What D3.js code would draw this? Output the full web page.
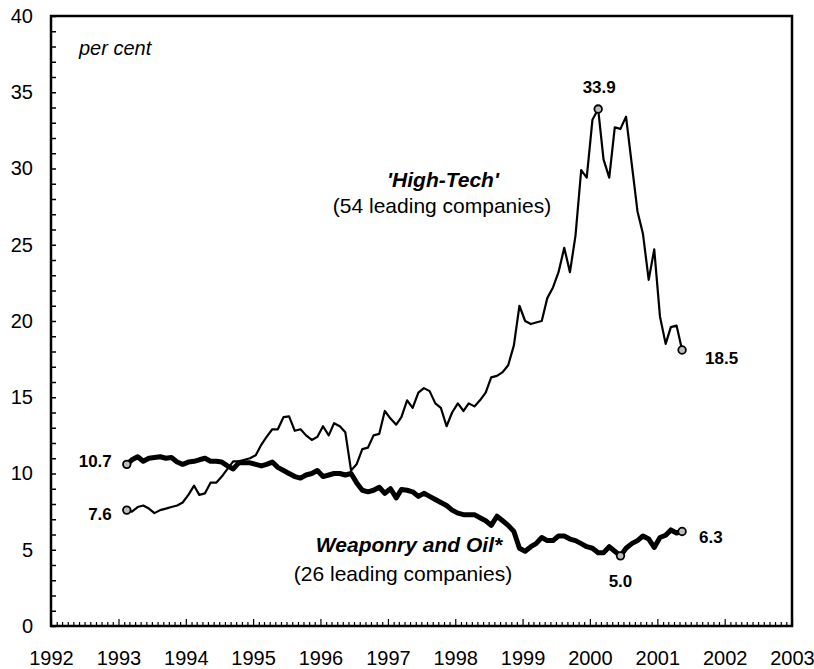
<!DOCTYPE html>
<html>
<head>
<meta charset="utf-8">
<script src="https://cdn.jsdelivr.net/npm/d3@7"></script>
<style>
body { margin: 0; background: #fff; }
svg text { font-family: "Liberation Sans", Arial, Helvetica, sans-serif; fill: #000; }
</style>
</head>
<body>
<svg id="chart" width="814" height="669"></svg>
<script>

// monthly series, first value is Feb 1993
var FIRST_MONTH = '1993-02';

var highTech = [
    7.6, 7.5, 7.8, 7.9, 7.7, 7.4, 7.6, 7.7, 7.8, 7.9,
    8.1, 8.6, 9.2, 8.6, 8.7, 9.4, 9.4, 9.8, 10.3, 10.8,
    10.8, 10.9, 11.0, 11.2, 11.9, 12.4, 12.9, 12.9, 13.7, 13.75,
    12.8, 12.9, 12.5, 12.2, 12.4, 13.1, 12.5, 13.3, 13.1, 12.7,
    10.2, 10.6, 11.6, 11.7, 12.5, 12.6, 14.1, 13.6, 13.2, 13.7,
    14.8, 14.3, 15.3, 15.6, 15.4, 14.6, 14.3, 13.1, 14.0, 14.6,
    14.1, 14.6, 14.4, 14.8, 15.3, 16.3, 16.4, 16.65, 17.1, 18.4,
    21.0, 20.0, 19.8, 19.9, 20.0, 21.5, 22.2, 23.2, 24.8, 23.2,
    25.6, 29.9, 29.4, 33.2, 33.9, 30.6, 29.4, 32.7, 32.6, 33.4,
    30.3, 27.2, 25.7, 22.7, 24.7, 20.3, 18.5, 19.6, 19.7, 18.1
];

var weaponry = [
    10.6, 10.9, 11.1, 10.8, 11.0, 11.05, 11.1, 11.0, 11.05, 10.75,
    10.6, 10.75, 10.8, 10.9, 11.0, 10.8, 10.8, 10.75, 10.5, 10.3,
    10.7, 10.7, 10.7, 10.6, 10.5, 10.6, 10.75, 10.4, 10.2, 10.0,
    9.8, 9.7, 9.9, 10.0, 10.2, 9.8, 9.9, 10.0, 10.0, 9.9,
    10.0, 9.4, 8.9, 8.8, 8.9, 9.1, 8.7, 9.0, 8.4, 8.95,
    8.9, 8.8, 8.5, 8.7, 8.5, 8.3, 8.1, 7.9, 7.6, 7.4,
    7.3, 7.3, 7.3, 7.1, 6.9, 6.6, 7.2, 6.9, 6.6, 6.2,
    5.1, 4.9, 5.2, 5.4, 5.8, 5.6, 5.6, 5.9, 5.9, 5.7,
    5.6, 5.4, 5.2, 5.1, 4.8, 4.8, 5.2, 4.9, 4.6, 5.1,
    5.4, 5.6, 5.9, 5.7, 5.15, 5.8, 5.95, 6.3, 6.1, 6.2
];

var yLabels = [0, 5, 10, 15, 20, 25, 30, 35, 40];
var yearLabels = [1992, 1993, 1994, 1995, 1996, 1997, 1998, 1999, 2000, 2001, 2002, 2003];

// marked points: index into the series and the printed value
var highTechMarks = [
    { i: 0, text: '7.6', place: 'left' },
    { i: 84, text: '33.9', place: 'top' },
    { i: 99, text: '18.5', place: 'right' }
];
var weaponryMarks = [
    { i: 0, text: '10.7', place: 'left' },
    { i: 88, text: '5.0', place: 'below' },
    { i: 99, text: '6.3', place: 'right' }
];

var highTechTitle = "'High-Tech'";
var highTechSub = '(54 leading companies)';
var weaponryTitle = 'Weaponry and Oil*';
var weaponrySub = '(26 leading companies)';
var unitLabel = 'per cent';

var svg = d3.select('#chart');

var plotLeft = 51, plotRight = 792, plotTop = 16, plotBottom = 626;

var parseMonth = d3.timeParse('%Y-%m');
var firstDate = d3.timeDay.offset(parseMonth(FIRST_MONTH), 14);

function monthDate(i) {
    return d3.timeMonth.offset(firstDate, i);
}

var xScale = d3.scaleTime()
    .domain([new Date(yearLabels[0], 0, 1), new Date(yearLabels[yearLabels.length - 1], 0, 1)])
    .range([plotLeft, plotRight]);

var yScale = d3.scaleLinear()
    .domain([yLabels[0], yLabels[yLabels.length - 1]])
    .range([plotBottom, plotTop]);

// y axis: a tick for every unit, labels every 5
var yAxis = d3.axisLeft(yScale)
    .tickValues(d3.range(0, 41, 1))
    .tickSizeInner(-5)
    .tickSizeOuter(0)
    .tickPadding(18)
    .tickFormat(function(d) { return yLabels.indexOf(d) > -1 ? d : ''; });

var gy = svg.append('g')
    .attr('transform', 'translate(' + plotLeft + ',0)')
    .call(yAxis);
gy.select('.domain').remove();
gy.selectAll('line').attr('stroke', '#000').attr('stroke-width', 1.5);
gy.selectAll('text').attr('font-size', 20).attr('font-family', '"Liberation Sans", Arial, sans-serif');

// x axis: monthly ticks inside, year labels
var xAxis = d3.axisBottom(xScale)
    .ticks(d3.timeMonth.every(1))
    .tickSizeInner(-4)
    .tickSizeOuter(0)
    .tickPadding(25)
    .tickFormat(function(d) { return d.getMonth() === 0 ? d.getFullYear() : ''; });

var gx = svg.append('g')
    .attr('transform', 'translate(0,' + plotBottom + ')')
    .call(xAxis);
gx.select('.domain').remove();
gx.selectAll('.tick line')
    .attr('stroke', '#000')
    .attr('stroke-width', 1.2)
    .attr('y2', function(d) { return d.getMonth() === 0 ? -7 : -4; });
gx.selectAll('text').attr('font-size', 20).attr('font-family', '"Liberation Sans", Arial, sans-serif');

// frame
svg.append('rect')
    .attr('x', plotLeft)
    .attr('y', plotTop)
    .attr('width', plotRight - plotLeft)
    .attr('height', plotBottom - plotTop)
    .attr('fill', 'none')
    .attr('stroke', '#000')
    .attr('stroke-width', 2.5);

var line = d3.line()
    .x(function(d, i) { return xScale(monthDate(i)); })
    .y(function(d) { return yScale(d); });

svg.append('path')
    .datum(highTech)
    .attr('d', line)
    .attr('fill', 'none')
    .attr('stroke', '#000')
    .attr('stroke-width', 2.2)
    .attr('stroke-linejoin', 'round');

svg.append('path')
    .datum(weaponry)
    .attr('d', line)
    .attr('fill', 'none')
    .attr('stroke', '#000')
    .attr('stroke-width', 5)
    .attr('stroke-linejoin', 'round');

function drawMarks(series, marks) {
    marks.forEach(function(m) {
        var cx = xScale(monthDate(m.i));
        var cy = yScale(series[m.i]);

        svg.append('circle')
            .attr('cx', cx)
            .attr('cy', cy)
            .attr('r', 3.8)
            .attr('fill', '#bdbdbd')
            .attr('stroke', '#000')
            .attr('stroke-width', 1.8);

        var t = svg.append('text')
            .attr('font-size', 17)
            .attr('font-weight', 'bold')
            .text(m.text);

        if (m.place == 'left') {
            t.attr('x', cx - 15).attr('y', cy + (series === highTech ? 10 : 3)).attr('text-anchor', 'end');
        }
        if (m.place == 'top') {
            t.attr('x', cx + 1).attr('y', cy - 16).attr('text-anchor', 'middle');
        }
        if (m.place == 'right') {
            t.attr('x', cx + (series === highTech ? 23 : 17)).attr('y', cy + (series === highTech ? 14 : 12)).attr('text-anchor', 'start');
        }
        if (m.place == 'below') {
            t.attr('x', cx).attr('y', cy + 31).attr('text-anchor', 'middle');
        }
    });
}

drawMarks(highTech, highTechMarks);
drawMarks(weaponry, weaponryMarks);

// series captions
svg.append('text')
    .attr('x', 443).attr('y', 187)
    .attr('text-anchor', 'middle')
    .attr('font-size', 21)
    .attr('font-weight', 'bold')
    .attr('font-style', 'italic')
    .text(highTechTitle);

svg.append('text')
    .attr('x', 442).attr('y', 213)
    .attr('text-anchor', 'middle')
    .attr('font-size', 21)
    .text(highTechSub);

svg.append('text')
    .attr('x', 409).attr('y', 552)
    .attr('text-anchor', 'middle')
    .attr('font-size', 21)
    .attr('font-weight', 'bold')
    .attr('font-style', 'italic')
    .text(weaponryTitle);

svg.append('text')
    .attr('x', 403).attr('y', 581)
    .attr('text-anchor', 'middle')
    .attr('font-size', 21)
    .text(weaponrySub);

svg.append('text')
    .attr('x', 79).attr('y', 55)
    .attr('font-size', 20)
    .attr('font-style', 'italic')
    .text(unitLabel);

</script>
</body>
</html>
